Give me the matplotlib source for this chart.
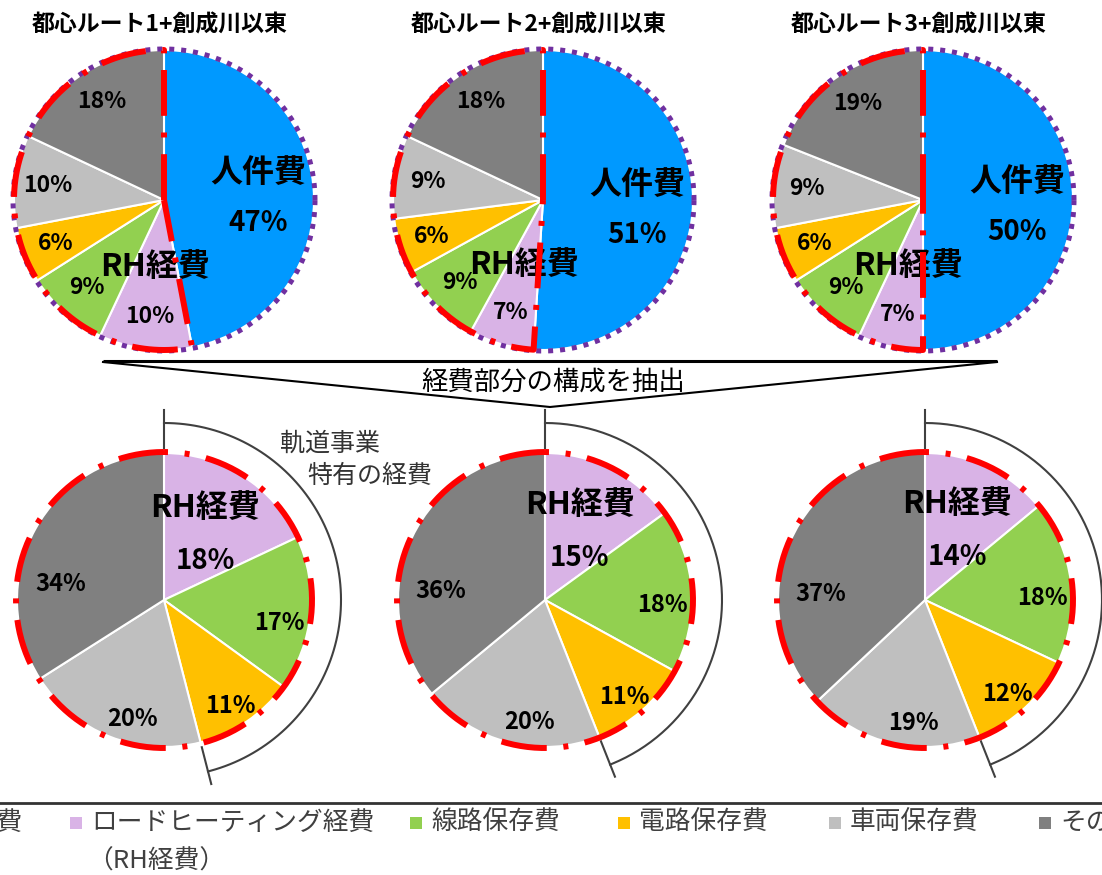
import numpy as np
import matplotlib.pyplot as plt
from matplotlib.patches import Rectangle

plt.rcParams['font.family'] = ['Noto Sans CJK JP', 'DejaVu Sans']
plt.rcParams['lines.scale_dashes'] = False

W, H = 1102, 875

titles = ['都心ルート1+創成川以東', '都心ルート2+創成川以東', '都心ルート3+創成川以東']
categories = ['人件費', 'ロードヒーティング経費', '線路保存費', '電路保存費', '車両保存費', 'その他']
colors = ['#0099FF', '#D9B3E6', '#92D050', '#FFC000', '#BFBFBF', '#808080']

# 全体の構成比 (%): 人件費, RH, 線路, 電路, 車両, その他
total_share = [
    [47, 10, 9, 6, 10, 18],
    [51, 7, 9, 6, 9, 18],
    [50, 7, 9, 6, 9, 19],
]
# 経費部分の構成比 (%): RH, 線路, 電路, 車両, その他
expense_share = [
    [18, 17, 11, 20, 34],
    [15, 18, 11, 20, 36],
    [14, 18, 12, 19, 37],
]
n_special = 3  # RH + 線路 + 電路 = 軌道事業特有の経費

# layout (pixels, y from top)
top_cx = [164, 543, 923]
top_cy = 200
R_top = 150
bot_cx = [164, 545, 925]
bot_cy = 600
R_bot = 147

RED = '#FF0000'
PURPLE = '#7030A0'
DARK = '#404040'
red_dash = (0, (33, 12, 3.6, 12))
purple_dot = (0, (3.6, 5))

fig = plt.figure(figsize=(W / 100, H / 100), dpi=100)
ax = fig.add_axes([0, 0, 1, 1])


def Y(y):
    return H - y


def polar(cx, cy, r, deg):
    t = np.deg2rad(deg)
    return cx + r * np.cos(t), Y(cy) + r * np.sin(t)


def slice_angles(vals):
    cum = np.concatenate([[0], np.cumsum(vals)]) / np.sum(vals)
    edges = 90 - 360 * cum
    return edges[:-1], edges[1:], (edges[:-1] + edges[1:]) / 2


def label(x, y, s, size, weight='bold', color='black', ha='center'):
    ax.text(x, y, s, fontsize=size, fontweight=weight, color=color,
            ha=ha, va='center')


# ---- top pies ----
for k in range(3):
    cx = top_cx[k]
    vals = total_share[k]
    ax.pie(vals, colors=colors, startangle=90, counterclock=False, radius=R_top,
           center=(cx, Y(top_cy)), wedgeprops=dict(edgecolor='white', linewidth=1.5))
    st, en, mid = slice_angles(vals)

    t = np.linspace(0, 360, 400)
    px, py = polar(cx, top_cy, R_top + 1, t)
    ax.plot(px, py, color=PURPLE, lw=3.6, linestyle=purple_dot, zorder=5)

    # outline of the expense part
    t = np.linspace(90, en[0] + 360, 300)
    ax_, ay_ = polar(cx, top_cy, R_top, t)
    ox = np.concatenate([[cx], ax_, [cx]])
    oy = np.concatenate([[Y(top_cy)], ay_, [Y(top_cy)]])
    ax.plot(ox, oy, color=RED, lw=4.3, linestyle=red_dash, zorder=6)

    ax.text(cx - 4, Y(25), titles[k], fontsize=16.5, fontweight='bold',
            ha='center', va='center')

    x0, y0 = polar(cx, top_cy, 0.63 * R_top, mid[0] - 4)
    label(x0, y0 + 25, categories[0], 23)
    label(x0, y0 - 25, f'{vals[0]}%', 20)
    for i in range(1, 6):
        x, y = polar(cx, top_cy, 0.78 * R_top, mid[i])
        label(x, y, f'{vals[i]}%', 16.5)
    x, y = polar(cx, top_cy, 0.45 * R_top, mid[1])
    label(x, y, 'RH経費', 23)

# ---- connector ----
ax.plot([103, 997], [Y(361), Y(361)], color='black', lw=2.2, solid_capstyle='butt')
ax.plot([103, 550, 997], [Y(362), Y(407), Y(362)], color='black', lw=1.5)
ax.text(553, Y(382), '経費部分の構成を抽出', fontsize=19, ha='center', va='center',
        color='black')

# ---- bottom pies ----
shift = [0, -6, -2, 7, 20]
dist = [0.52, 0.8, 0.85, 0.84, 0.71]
for k in range(3):
    cx = bot_cx[k]
    vals = expense_share[k]
    ax.pie(vals, colors=colors[1:], startangle=90, counterclock=False, radius=R_bot,
           center=(cx, Y(bot_cy)), wedgeprops=dict(edgecolor='white', linewidth=1.5))
    st, en, mid = slice_angles(vals)

    t = np.linspace(90, 450, 400)
    px, py = polar(cx, bot_cy, R_bot + 1, t)
    ax.plot(px, py, color=RED, lw=4.3, linestyle=red_dash, zorder=6)

    # bracket around 軌道事業特有の経費
    end = en[n_special - 1]
    t = np.linspace(90, end, 200)
    bx, by = polar(cx, bot_cy, 177, t)
    ax.plot(bx, by, color=DARK, lw=1.5)
    for a in (90, end):
        tx, ty = polar(cx, bot_cy, np.array([152, 190]), a)
        ax.plot(tx, ty, color=DARK, lw=1.5)

    x0, y0 = polar(cx, bot_cy, dist[0] * R_bot, mid[0] + shift[0])
    label(x0, y0 + 27, 'RH経費', 23)
    label(x0, y0 - 26, f'{vals[0]}%', 20)
    for i in range(1, 5):
        x, y = polar(cx, bot_cy, dist[i] * R_bot, mid[i] + shift[i])
        label(x, y, f'{vals[i]}%', 17)

ax.text(280, Y(444), '軌道事業', fontsize=18, ha='left', va='center', color='#333333')
ax.text(307, Y(476), '特有の経費', fontsize=18, ha='left', va='center', color='#333333')

# ---- legend ----
ax.plot([0, W], [Y(803), Y(803)], color='#333333', lw=2)
leg_x = [-80, 70, 410, 618, 829, 1039]
for i, name in enumerate(categories):
    ax.add_patch(Rectangle((leg_x[i], Y(829)), 12, 12, facecolor=colors[i],
                           edgecolor='none'))
    if i == 0:
        continue
    label(leg_x[i] + 21, Y(823), name, 18.5, weight='normal', color=DARK, ha='left')
# 左端の「人件費」は図の外にはみ出して切れている
ax.text(22, Y(823), categories[0], fontsize=18.5, color=DARK, ha='right', va='center')
label(leg_x[1] + 17, Y(862), '（RH経費）', 18.5, weight='normal', color=DARK, ha='left')

ax.set_xlim(0, W)
ax.set_ylim(0, H)
ax.set_aspect('auto')
ax.axis('off')
fig.savefig('out.png', dpi=100)
